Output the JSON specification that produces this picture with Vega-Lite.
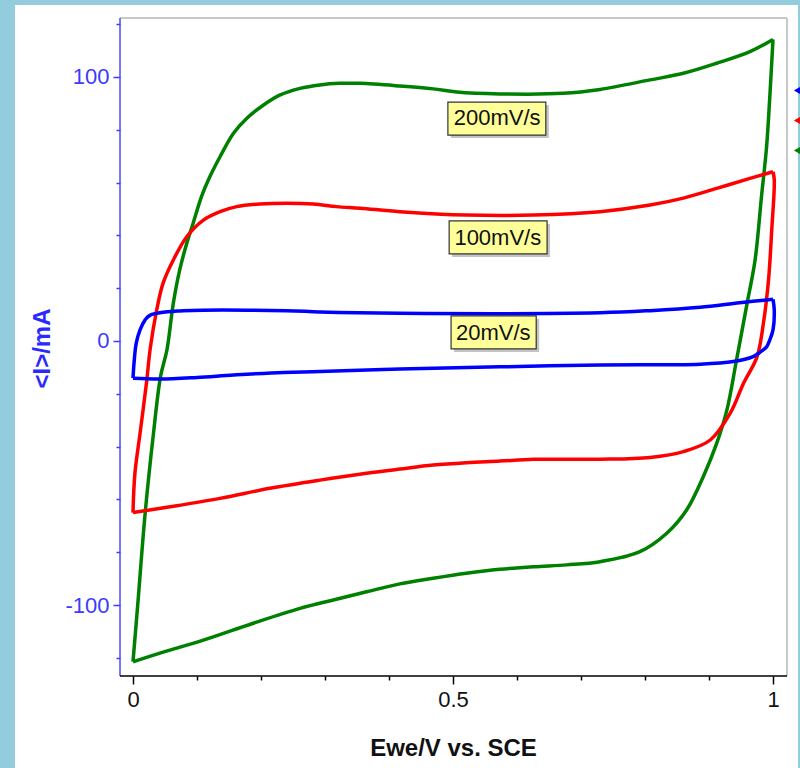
{
  "$schema": "https://vega.github.io/schema/vega-lite/v6.json",
  "width": 783,
  "height": 763,
  "autosize": {"type": "none"},
  "padding": {"left": 15, "top": 5, "right": 2, "bottom": 0},
  "background": "#93cddd",
  "config": {"view": {"stroke": null, "fill": "#ffffff"}, "font": "Liberation Sans"},
  "datasets": {
    "cv": [
      {"rate": "200mV/s", "seg": "f", "idx": 1, "E": 0.000, "I": -121.5},
      {"rate": "200mV/s", "seg": "f", "idx": 2, "E": 0.008, "I": -98.1},
      {"rate": "200mV/s", "seg": "f", "idx": 3, "E": 0.019, "I": -65.2},
      {"rate": "200mV/s", "seg": "f", "idx": 4, "E": 0.032, "I": -35.0},
      {"rate": "200mV/s", "seg": "f", "idx": 5, "E": 0.043, "I": -13.5},
      {"rate": "200mV/s", "seg": "f", "idx": 6, "E": 0.053, "I": -3.4},
      {"rate": "200mV/s", "seg": "f", "idx": 7, "E": 0.063, "I": 14.3},
      {"rate": "200mV/s", "seg": "f", "idx": 8, "E": 0.073, "I": 26.9},
      {"rate": "200mV/s", "seg": "f", "idx": 9, "E": 0.084, "I": 37.0},
      {"rate": "200mV/s", "seg": "f", "idx": 10, "E": 0.094, "I": 44.6},
      {"rate": "200mV/s", "seg": "f", "idx": 11, "E": 0.107, "I": 54.7},
      {"rate": "200mV/s", "seg": "f", "idx": 12, "E": 0.120, "I": 62.2},
      {"rate": "200mV/s", "seg": "f", "idx": 13, "E": 0.136, "I": 69.8},
      {"rate": "200mV/s", "seg": "f", "idx": 14, "E": 0.157, "I": 78.7},
      {"rate": "200mV/s", "seg": "f", "idx": 15, "E": 0.178, "I": 84.4},
      {"rate": "200mV/s", "seg": "f", "idx": 16, "E": 0.204, "I": 89.4},
      {"rate": "200mV/s", "seg": "f", "idx": 17, "E": 0.230, "I": 93.2},
      {"rate": "200mV/s", "seg": "f", "idx": 18, "E": 0.261, "I": 95.7},
      {"rate": "200mV/s", "seg": "f", "idx": 19, "E": 0.292, "I": 97.0},
      {"rate": "200mV/s", "seg": "f", "idx": 20, "E": 0.323, "I": 97.6},
      {"rate": "200mV/s", "seg": "f", "idx": 21, "E": 0.355, "I": 97.6},
      {"rate": "200mV/s", "seg": "f", "idx": 22, "E": 0.417, "I": 96.6},
      {"rate": "200mV/s", "seg": "f", "idx": 23, "E": 0.469, "I": 95.5},
      {"rate": "200mV/s", "seg": "f", "idx": 24, "E": 0.506, "I": 94.3},
      {"rate": "200mV/s", "seg": "f", "idx": 25, "E": 0.573, "I": 93.6},
      {"rate": "200mV/s", "seg": "f", "idx": 26, "E": 0.672, "I": 93.8},
      {"rate": "200mV/s", "seg": "f", "idx": 27, "E": 0.730, "I": 95.3},
      {"rate": "200mV/s", "seg": "f", "idx": 28, "E": 0.808, "I": 98.9},
      {"rate": "200mV/s", "seg": "f", "idx": 29, "E": 0.860, "I": 101.4},
      {"rate": "200mV/s", "seg": "f", "idx": 30, "E": 0.912, "I": 105.2},
      {"rate": "200mV/s", "seg": "f", "idx": 31, "E": 0.964, "I": 109.6},
      {"rate": "200mV/s", "seg": "f", "idx": 32, "E": 1.000, "I": 114.2},
      {"rate": "200mV/s", "seg": "r", "idx": 32, "E": 1.000, "I": 114.2},
      {"rate": "200mV/s", "seg": "r", "idx": 33, "E": 0.995, "I": 92.5},
      {"rate": "200mV/s", "seg": "r", "idx": 34, "E": 0.990, "I": 73.6},
      {"rate": "200mV/s", "seg": "r", "idx": 35, "E": 0.982, "I": 54.7},
      {"rate": "200mV/s", "seg": "r", "idx": 36, "E": 0.972, "I": 30.7},
      {"rate": "200mV/s", "seg": "r", "idx": 37, "E": 0.959, "I": 13.6},
      {"rate": "200mV/s", "seg": "r", "idx": 38, "E": 0.943, "I": -7.2},
      {"rate": "200mV/s", "seg": "r", "idx": 39, "E": 0.928, "I": -26.1},
      {"rate": "200mV/s", "seg": "r", "idx": 40, "E": 0.912, "I": -38.8},
      {"rate": "200mV/s", "seg": "r", "idx": 41, "E": 0.891, "I": -51.4},
      {"rate": "200mV/s", "seg": "r", "idx": 42, "E": 0.865, "I": -64.0},
      {"rate": "200mV/s", "seg": "r", "idx": 43, "E": 0.834, "I": -72.8},
      {"rate": "200mV/s", "seg": "r", "idx": 44, "E": 0.792, "I": -79.8},
      {"rate": "200mV/s", "seg": "r", "idx": 45, "E": 0.730, "I": -83.6},
      {"rate": "200mV/s", "seg": "r", "idx": 46, "E": 0.678, "I": -84.8},
      {"rate": "200mV/s", "seg": "r", "idx": 47, "E": 0.626, "I": -85.5},
      {"rate": "200mV/s", "seg": "r", "idx": 48, "E": 0.573, "I": -86.5},
      {"rate": "200mV/s", "seg": "r", "idx": 49, "E": 0.521, "I": -88.0},
      {"rate": "200mV/s", "seg": "r", "idx": 50, "E": 0.469, "I": -89.9},
      {"rate": "200mV/s", "seg": "r", "idx": 51, "E": 0.417, "I": -92.0},
      {"rate": "200mV/s", "seg": "r", "idx": 52, "E": 0.365, "I": -95.0},
      {"rate": "200mV/s", "seg": "r", "idx": 53, "E": 0.313, "I": -98.1},
      {"rate": "200mV/s", "seg": "r", "idx": 54, "E": 0.261, "I": -101.3},
      {"rate": "200mV/s", "seg": "r", "idx": 55, "E": 0.188, "I": -106.9},
      {"rate": "200mV/s", "seg": "r", "idx": 56, "E": 0.110, "I": -113.3},
      {"rate": "200mV/s", "seg": "r", "idx": 57, "E": 0.042, "I": -118.2},
      {"rate": "200mV/s", "seg": "r", "idx": 58, "E": 0.000, "I": -121.5},

      {"rate": "100mV/s", "seg": "f", "idx": 1, "E": 0.000, "I": -65.0},
      {"rate": "100mV/s", "seg": "f", "idx": 2, "E": 0.003, "I": -50.1},
      {"rate": "100mV/s", "seg": "f", "idx": 3, "E": 0.011, "I": -35.0},
      {"rate": "100mV/s", "seg": "f", "idx": 4, "E": 0.021, "I": -16.0},
      {"rate": "100mV/s", "seg": "f", "idx": 5, "E": 0.027, "I": -2.7},
      {"rate": "100mV/s", "seg": "f", "idx": 6, "E": 0.037, "I": 11.7},
      {"rate": "100mV/s", "seg": "f", "idx": 7, "E": 0.047, "I": 21.9},
      {"rate": "100mV/s", "seg": "f", "idx": 8, "E": 0.063, "I": 30.7},
      {"rate": "100mV/s", "seg": "f", "idx": 9, "E": 0.084, "I": 39.5},
      {"rate": "100mV/s", "seg": "f", "idx": 10, "E": 0.110, "I": 45.8},
      {"rate": "100mV/s", "seg": "f", "idx": 11, "E": 0.136, "I": 49.0},
      {"rate": "100mV/s", "seg": "f", "idx": 12, "E": 0.162, "I": 50.9},
      {"rate": "100mV/s", "seg": "f", "idx": 13, "E": 0.198, "I": 51.9},
      {"rate": "100mV/s", "seg": "f", "idx": 14, "E": 0.240, "I": 52.2},
      {"rate": "100mV/s", "seg": "f", "idx": 15, "E": 0.282, "I": 51.9},
      {"rate": "100mV/s", "seg": "f", "idx": 16, "E": 0.318, "I": 50.9},
      {"rate": "100mV/s", "seg": "f", "idx": 17, "E": 0.355, "I": 50.3},
      {"rate": "100mV/s", "seg": "f", "idx": 18, "E": 0.417, "I": 49.0},
      {"rate": "100mV/s", "seg": "f", "idx": 19, "E": 0.521, "I": 47.7},
      {"rate": "100mV/s", "seg": "f", "idx": 20, "E": 0.626, "I": 47.7},
      {"rate": "100mV/s", "seg": "f", "idx": 21, "E": 0.730, "I": 49.0},
      {"rate": "100mV/s", "seg": "f", "idx": 22, "E": 0.808, "I": 51.5},
      {"rate": "100mV/s", "seg": "f", "idx": 23, "E": 0.860, "I": 54.1},
      {"rate": "100mV/s", "seg": "f", "idx": 24, "E": 0.912, "I": 57.8},
      {"rate": "100mV/s", "seg": "f", "idx": 25, "E": 0.964, "I": 61.6},
      {"rate": "100mV/s", "seg": "f", "idx": 26, "E": 1.000, "I": 64.1},
      {"rate": "100mV/s", "seg": "r", "idx": 26, "E": 1.000, "I": 64.1},
      {"rate": "100mV/s", "seg": "r", "idx": 27, "E": 1.002, "I": 61.0},
      {"rate": "100mV/s", "seg": "r", "idx": 28, "E": 0.998, "I": 42.0},
      {"rate": "100mV/s", "seg": "r", "idx": 29, "E": 0.993, "I": 23.1},
      {"rate": "100mV/s", "seg": "r", "idx": 30, "E": 0.985, "I": 6.7},
      {"rate": "100mV/s", "seg": "r", "idx": 31, "E": 0.975, "I": -6.0},
      {"rate": "100mV/s", "seg": "r", "idx": 32, "E": 0.954, "I": -16.0},
      {"rate": "100mV/s", "seg": "r", "idx": 33, "E": 0.933, "I": -27.4},
      {"rate": "100mV/s", "seg": "r", "idx": 34, "E": 0.902, "I": -37.5},
      {"rate": "100mV/s", "seg": "r", "idx": 35, "E": 0.860, "I": -41.9},
      {"rate": "100mV/s", "seg": "r", "idx": 36, "E": 0.808, "I": -44.1},
      {"rate": "100mV/s", "seg": "r", "idx": 37, "E": 0.730, "I": -44.8},
      {"rate": "100mV/s", "seg": "r", "idx": 38, "E": 0.626, "I": -44.8},
      {"rate": "100mV/s", "seg": "r", "idx": 39, "E": 0.573, "I": -45.5},
      {"rate": "100mV/s", "seg": "r", "idx": 40, "E": 0.521, "I": -46.1},
      {"rate": "100mV/s", "seg": "r", "idx": 41, "E": 0.469, "I": -47.0},
      {"rate": "100mV/s", "seg": "r", "idx": 42, "E": 0.417, "I": -48.5},
      {"rate": "100mV/s", "seg": "r", "idx": 43, "E": 0.365, "I": -50.1},
      {"rate": "100mV/s", "seg": "r", "idx": 44, "E": 0.292, "I": -52.7},
      {"rate": "100mV/s", "seg": "r", "idx": 45, "E": 0.214, "I": -55.8},
      {"rate": "100mV/s", "seg": "r", "idx": 46, "E": 0.136, "I": -59.6},
      {"rate": "100mV/s", "seg": "r", "idx": 47, "E": 0.058, "I": -62.8},
      {"rate": "100mV/s", "seg": "r", "idx": 48, "E": 0.000, "I": -65.0},

      {"rate": "20mV/s", "seg": "f", "idx": 1, "E": 0.000, "I": -14.1},
      {"rate": "20mV/s", "seg": "f", "idx": 2, "E": 0.002, "I": -7.2},
      {"rate": "20mV/s", "seg": "f", "idx": 3, "E": 0.005, "I": -0.9},
      {"rate": "20mV/s", "seg": "f", "idx": 4, "E": 0.011, "I": 4.2},
      {"rate": "20mV/s", "seg": "f", "idx": 5, "E": 0.019, "I": 8.0},
      {"rate": "20mV/s", "seg": "f", "idx": 6, "E": 0.027, "I": 9.8},
      {"rate": "20mV/s", "seg": "f", "idx": 7, "E": 0.073, "I": 11.4},
      {"rate": "20mV/s", "seg": "f", "idx": 8, "E": 0.240, "I": 11.5},
      {"rate": "20mV/s", "seg": "f", "idx": 9, "E": 0.292, "I": 11.0},
      {"rate": "20mV/s", "seg": "f", "idx": 10, "E": 0.417, "I": 10.5},
      {"rate": "20mV/s", "seg": "f", "idx": 11, "E": 0.730, "I": 10.7},
      {"rate": "20mV/s", "seg": "f", "idx": 12, "E": 0.808, "I": 11.5},
      {"rate": "20mV/s", "seg": "f", "idx": 13, "E": 0.886, "I": 12.8},
      {"rate": "20mV/s", "seg": "f", "idx": 14, "E": 0.948, "I": 14.5},
      {"rate": "20mV/s", "seg": "f", "idx": 15, "E": 1.000, "I": 15.8},
      {"rate": "20mV/s", "seg": "r", "idx": 15, "E": 1.000, "I": 15.8},
      {"rate": "20mV/s", "seg": "r", "idx": 16, "E": 1.002, "I": 11.7},
      {"rate": "20mV/s", "seg": "r", "idx": 17, "E": 1.000, "I": 4.2},
      {"rate": "20mV/s", "seg": "r", "idx": 18, "E": 0.995, "I": 0.4},
      {"rate": "20mV/s", "seg": "r", "idx": 19, "E": 0.990, "I": -2.2},
      {"rate": "20mV/s", "seg": "r", "idx": 20, "E": 0.980, "I": -4.2},
      {"rate": "20mV/s", "seg": "r", "idx": 21, "E": 0.969, "I": -5.9},
      {"rate": "20mV/s", "seg": "r", "idx": 22, "E": 0.938, "I": -7.8},
      {"rate": "20mV/s", "seg": "r", "idx": 23, "E": 0.886, "I": -8.8},
      {"rate": "20mV/s", "seg": "r", "idx": 24, "E": 0.730, "I": -9.1},
      {"rate": "20mV/s", "seg": "r", "idx": 25, "E": 0.573, "I": -9.8},
      {"rate": "20mV/s", "seg": "r", "idx": 26, "E": 0.417, "I": -10.6},
      {"rate": "20mV/s", "seg": "r", "idx": 27, "E": 0.292, "I": -11.6},
      {"rate": "20mV/s", "seg": "r", "idx": 28, "E": 0.235, "I": -11.9},
      {"rate": "20mV/s", "seg": "r", "idx": 29, "E": 0.157, "I": -12.9},
      {"rate": "20mV/s", "seg": "r", "idx": 30, "E": 0.100, "I": -13.8},
      {"rate": "20mV/s", "seg": "r", "idx": 31, "E": 0.042, "I": -14.4},
      {"rate": "20mV/s", "seg": "r", "idx": 32, "E": 0.000, "I": -14.1}
    ],
    "boxes": [
      {"label": "200mV/s", "x1": 0.492, "x2": 0.645, "y1": 90.5, "y2": 78.0, "cx": 0.569, "cy": 84.3},
      {"label": "100mV/s", "x1": 0.494, "x2": 0.647, "y1": 45.5, "y2": 33.0, "cx": 0.570, "cy": 39.2},
      {"label": "20mV/s", "x1": 0.497, "x2": 0.630, "y1": 9.5, "y2": -3.0, "cx": 0.563, "cy": 3.2}
    ],
    "one": [{}]
  },
  "layer": [
    {
      "data": {"name": "one"},
      "mark": {"type": "rule", "color": "#c8c8c8", "strokeWidth": 2},
      "encoding": {"x": {"datum": -0.0203}, "x2": {"datum": 1.0219}, "y": {"datum": 122.3}}
    },
    {
      "data": {"name": "one"},
      "mark": {"type": "rule", "color": "#c8c8c8", "strokeWidth": 2},
      "encoding": {"x": {"datum": 1.0219}, "y": {"datum": 122.3}, "y2": {"datum": -126.9}}
    },
    {
      "data": {"name": "cv"},
      "mark": {"type": "line", "strokeWidth": 3.5, "strokeJoin": "round", "interpolate": "catmull-rom", "clip": false},
      "encoding": {
        "x": {
          "field": "E", "type": "quantitative", "title": "Ewe/V vs. SCE",
          "scale": {"domain": [-0.184375, 1.0390625], "nice": false, "zero": false},
          "axis": {
            "values": [0, 0.1, 0.2, 0.3, 0.4, 0.5, 0.6, 0.7, 0.8, 0.9, 1],
            "offset": -92, "domain": false, "grid": false,
            "tickColor": "#000000", "tickWidth": 1.5,
            "tickSize": {"condition": {"test": "datum.value === 0 || datum.value === 0.5 || datum.value === 1", "value": 8}, "value": 4},
            "format": "~g",
            "labelExpr": "datum.value === 0 || datum.value === 0.5 || datum.value === 1 ? datum.label : ''",
            "labelFontSize": 22, "labelColor": "#111111", "labelPadding": 5,
            "labelOverlap": false, "labelFlush": false,
            "titleFontSize": 24, "titleFontWeight": "bold", "titleColor": "#111111",
            "titleX": 438, "titleY": 72, "titleBaseline": "middle", "titleAlign": "center"
          }
        },
        "y": {
          "field": "I", "type": "quantitative", "title": "<I>/mA",
          "scale": {"domain": [-161.74, 127.27], "nice": false, "zero": false},
          "axis": {
            "values": [-120, -110, -100, -90, -80, -70, -60, -50, -40, -30, -20, -10, 0, 10, 20, 30, 40, 50, 60, 70, 80, 90, 100, 110, 120],
            "offset": -105, "domain": false, "grid": false,
            "tickColor": "#3b3bff", "tickWidth": 1.5,
            "tickSize": {"condition": {"test": "datum.value % 50 === 0", "value": 7}, "value": 4},
            "labelExpr": "datum.value % 50 === 0 ? '' + datum.value : ''",
            "labelFontSize": 22, "labelColor": "#3b3bff", "labelPadding": 4,
            "labelOverlap": false, "labelFlush": false,
            "titleFontSize": 24, "titleFontWeight": "bold", "titleColor": "#2a2aff",
            "titleX": -78, "titleY": 343, "titleAngle": -90, "titleAlign": "center", "titleBaseline": "middle"
          }
        },
        "color": {
          "field": "rate", "type": "nominal",
          "scale": {"domain": ["20mV/s", "100mV/s", "200mV/s"], "range": ["#0000ff", "#ff0000", "#008000"]},
          "legend": {
            "orient": "none", "legendX": 779, "legendY": 81, "title": null,
            "symbolType": "triangle-left", "symbolSize": 50, "symbolStrokeWidth": 1.5,
            "labelFontSize": 1, "labelExpr": "''", "rowPadding": 15, "padding": 0,
            "encode": {"symbols": {"update": {"fill": {"scale": "color", "field": "value"}, "fillOpacity": {"value": 1}}}}
          }
        },
        "detail": {"field": "seg", "type": "nominal"},
        "order": {"field": "idx", "type": "quantitative"}
      }
    },
    {
      "data": {"name": "one"},
      "mark": {"type": "rule", "color": "#4a4aff", "strokeWidth": 1.5},
      "encoding": {"x": {"datum": -0.0203}, "y": {"datum": 122.3}, "y2": {"datum": -126.9}}
    },
    {
      "data": {"name": "one"},
      "mark": {"type": "rule", "color": "#000000", "strokeWidth": 1.5},
      "encoding": {"x": {"datum": -0.0203}, "x2": {"datum": 1.0219}, "y": {"datum": -126.9}}
    },
    {
      "data": {"name": "boxes"},
      "mark": {"type": "rect", "color": "#888888", "opacity": 0.5, "xOffset": 3, "x2Offset": 3, "yOffset": 3, "y2Offset": 3},
      "encoding": {
        "x": {"field": "x1", "type": "quantitative", "title": "Ewe/V vs. SCE"},
        "x2": {"field": "x2"},
        "y": {"field": "y1", "type": "quantitative", "title": "<I>/mA"},
        "y2": {"field": "y2"}
      }
    },
    {
      "data": {"name": "boxes"},
      "mark": {"type": "rect", "fill": "#ffff99", "stroke": "#333333", "strokeWidth": 1.2},
      "encoding": {
        "x": {"field": "x1", "type": "quantitative", "title": "Ewe/V vs. SCE"},
        "x2": {"field": "x2"},
        "y": {"field": "y1", "type": "quantitative", "title": "<I>/mA"},
        "y2": {"field": "y2"}
      }
    },
    {
      "data": {"name": "boxes"},
      "mark": {"type": "text", "fontSize": 22, "color": "#111111", "align": "center", "baseline": "middle"},
      "encoding": {
        "x": {"field": "cx", "type": "quantitative", "title": "Ewe/V vs. SCE"},
        "y": {"field": "cy", "type": "quantitative", "title": "<I>/mA"},
        "text": {"field": "label"}
      }
    }
  ]
}
